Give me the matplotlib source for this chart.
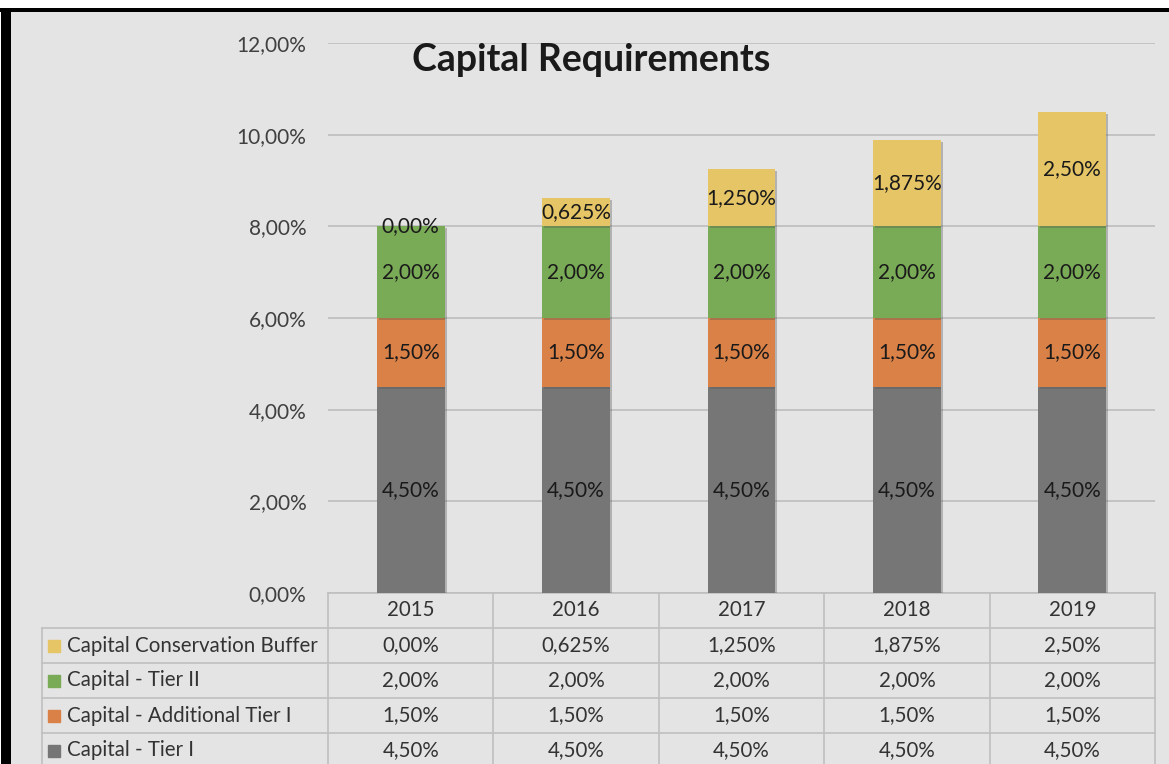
import matplotlib
matplotlib.use("Agg")
import matplotlib.pyplot as plt
from matplotlib.patches import Rectangle
from matplotlib.ticker import FuncFormatter
import matplotlib.patheffects as pe

plt.rcParams['font.family'] = ['Lato', 'DejaVu Sans']

years = ["2015", "2016", "2017", "2018", "2019"]
series_names = ["Capital - Tier I", "Capital - Additional Tier I",
                "Capital - Tier II", "Capital Conservation Buffer"]
tier1 = [4.5, 4.5, 4.5, 4.5, 4.5]
add_tier1 = [1.5, 1.5, 1.5, 1.5, 1.5]
tier2 = [2.0, 2.0, 2.0, 2.0, 2.0]
buffer = [0.0, 0.625, 1.25, 1.875, 2.5]
buffer_labels = ["0,00%", "0,625%", "1,250%", "1,875%", "2,50%"]
colors = ["#767676", "#DA8147", "#79AA56", "#E5C566"]

def pct(v):
    return ("%.2f%%" % v).replace(".", ",")

series = [tier1, add_tier1, tier2, buffer]
labels = [[pct(v) for v in tier1], [pct(v) for v in add_tier1],
          [pct(v) for v in tier2], buffer_labels]

W, H = 1169, 764
fig = plt.figure(figsize=(W / 100, H / 100), dpi=100, facecolor="white")
def fx(px): return px / W
def fy(py): return 1 - py / H

# background and black frame
fig.patches.append(Rectangle((fx(11), 0), 1 - fx(11), fy(12), transform=fig.transFigure,
                             facecolor="#E4E4E4", edgecolor="none", zorder=-3))
fig.patches.append(Rectangle((0, fy(12)), 1, fy(8) - fy(12), transform=fig.transFigure,
                             facecolor="black", edgecolor="none", zorder=-2))
fig.patches.append(Rectangle((fx(1), 0), fx(10), fy(8), transform=fig.transFigure,
                             facecolor="black", edgecolor="none", zorder=-2))

ax = fig.add_axes([fx(328), fy(593), fx(1155) - fx(328), fy(43) - fy(593)])
ax.set_facecolor("none")
x = list(range(len(years)))
ax.set_xlim(-0.5, len(years) - 0.5)
ax.set_ylim(0, 12)
ax.set_yticks([0, 2, 4, 6, 8, 10, 12])
ax.yaxis.set_major_formatter(FuncFormatter(lambda v, p: pct(v)))
ax.tick_params(axis="y", length=0, pad=15.5, labelsize=15, labelcolor="#404040")
ax.set_xticks([])
for s in ax.spines.values():
    s.set_visible(False)
ax.grid(axis="y", color="#BDBDBD", linewidth=1.2, zorder=1)
ax.set_axisbelow(True)

bottom = [0.0] * len(years)
shadow = [pe.SimplePatchShadow(offset=(1.5, -1.5), shadow_rgbFace="#555555", alpha=0.35), pe.Normal()]
for vals, col, labs in zip(series, colors, labels):
    bars = ax.bar(x, vals, width=0.41, bottom=bottom, color=col, zorder=3)
    for b in bars:
        b.set_path_effects(shadow)
    for xi, v, b0, lab in zip(x, vals, bottom, labs):
        ax.text(xi, b0 + v / 2, lab, ha="center", va="center", fontsize=15,
                color="#1A1A1A", zorder=4)
    bottom = [b0 + v for b0, v in zip(bottom, vals)]

ax.set_title("Capital Requirements", fontsize=27, fontweight="bold", color="#1A1A1A",
             x=0.318, y=0.954, va="center")

# data table
tr = ax.get_xaxis_transform()
rh = 35 / 550
cw = 165.4
xl = -0.5 - (328 - 42) / cw
lc = "#BFBFBF"
nrows = 5
ax.plot([-0.5, len(years) - 0.5], [0, 0], color=lc, lw=1.2, transform=tr, clip_on=False)
for r in range(1, nrows + 1):
    ax.plot([xl, len(years) - 0.5], [-r * rh, -r * rh], color=lc, lw=1.2, transform=tr, clip_on=False)
for c in range(len(years) + 1):
    ax.plot([c - 0.5, c - 0.5], [0, -nrows * rh], color=lc, lw=1.2, transform=tr, clip_on=False)
ax.plot([xl, xl], [-rh, -nrows * rh], color=lc, lw=1.2, transform=tr, clip_on=False)

for xi, yr in zip(x, years):
    ax.text(xi, -0.5 * rh, yr, ha="center", va="center", fontsize=14.8, color="#333333",
            transform=tr, clip_on=False)

rows = list(zip(series_names, colors, labels))[::-1]
for r, (name, col, labs) in enumerate(rows):
    yc = -(r + 1.5) * rh
    ax.plot([xl + 12 / cw], [yc], marker="s", markersize=8, color=col, transform=tr, clip_on=False)
    ax.text(xl + 25 / cw, yc, name, ha="left", va="center", fontsize=14.8, color="#333333",
            transform=tr, clip_on=False)
    for xi, lab in zip(x, labs):
        ax.text(xi, yc, lab, ha="center", va="center", fontsize=14.8, color="#333333",
                transform=tr, clip_on=False)

fig.savefig("out.png", dpi=100, facecolor="white")
